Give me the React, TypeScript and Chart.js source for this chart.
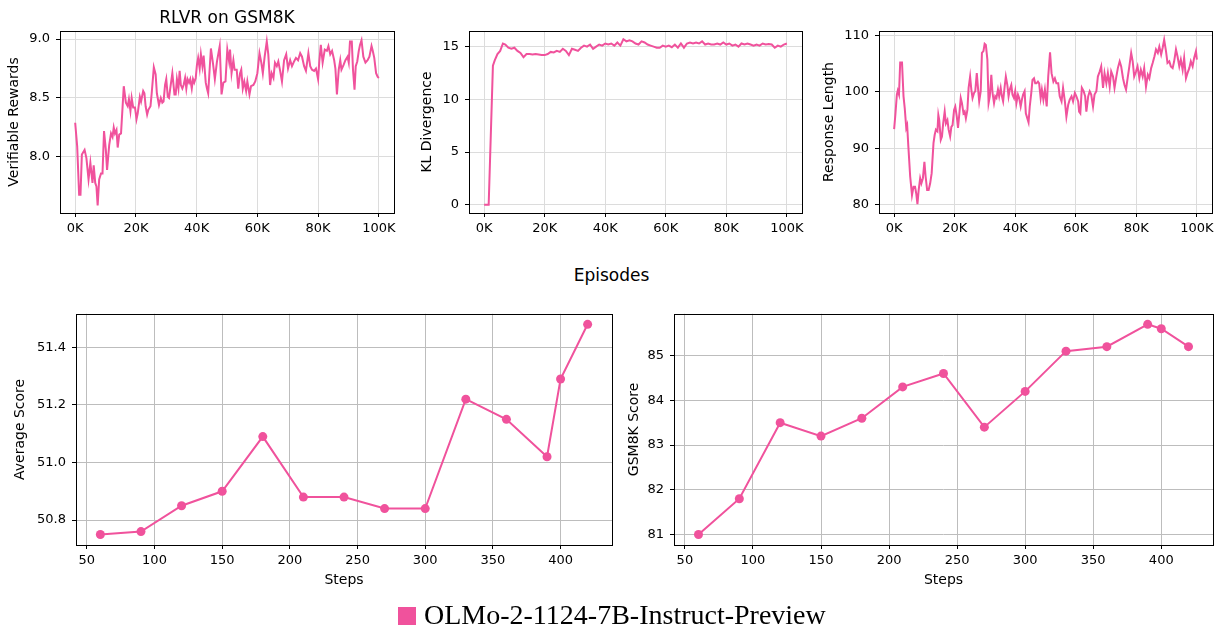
import React, { useEffect, useRef } from 'react';
import { Chart, registerables } from 'chart.js';
Chart.register(...registerables);

const PINK = '#F0529C';
const FONT = 'DejaVu Sans';

// ---- Top row: training curves (x in thousands of episodes) ----
const rewardEpisodesK = [
  0, 0.66, 1.3, 1.75, 2.2, 3.1, 3.7, 4.4, 5.0, 5.7,
  6.1, 6.6, 7.0, 7.4, 7.9, 8.5, 9.0, 9.5, 10.1, 10.5,
  11.2, 11.8, 12.3, 12.7, 13.1, 13.6, 14.0, 14.5, 15.1, 15.6,
  16.0, 16.7, 17.3, 17.7, 18.2, 18.6, 19.1, 19.7, 20.2, 20.6,
  21.3, 21.7, 22.4, 22.8, 23.2, 23.7, 24.1, 24.8, 25.2, 25.9,
  26.5, 26.9, 27.6, 28.2, 28.7, 29.1, 29.6, 30.0, 30.5, 30.9,
  31.3, 32.0, 32.7, 33.1, 33.5, 34.0, 34.4, 34.8, 35.3, 35.7,
  36.2, 36.6, 37.0, 37.5, 37.9, 38.4, 38.8, 39.2, 39.7, 40.1,
  40.5, 41.0, 41.4, 41.9, 42.3, 43.0, 43.4, 43.8, 44.7, 45.4,
  46.0, 46.7, 47.6, 48.2, 48.8, 49.5, 50.1, 50.7, 51.0, 51.5,
  52.1, 52.5, 53.2, 53.7, 54.3, 54.7, 55.2, 55.7, 56.3, 56.7,
  57.4, 57.9, 58.7, 59.3, 60.0, 60.7, 61.3, 61.8, 62.4, 63.1,
  63.6, 64.2, 64.7, 65.3, 65.8, 66.4, 66.9, 67.5, 68.1, 68.8,
  69.5, 70.1, 70.8, 71.4, 72.1, 72.7, 73.4, 74.1, 74.7, 75.4,
  76.0, 76.8, 77.4, 78.0, 78.7, 79.3, 80.0, 80.4, 80.9, 81.5,
  82.2, 82.9, 83.4, 84.0, 84.6, 85.3, 85.7, 86.2, 86.8, 87.3,
  87.7, 88.4, 89.0, 89.7, 90.1, 90.5, 91.1, 91.5, 92.0, 92.4,
  92.9, 93.4, 93.8, 94.3, 94.9, 95.6, 96.3, 96.9, 97.6, 98.0,
  98.5, 99.1, 99.6, 100,
];
const rewardValues = [
  8.29, 8.09, 7.68, 7.68, 8.02, 8.06, 7.99, 7.81, 7.95, 7.78,
  7.93, 7.78, 7.75, 7.59, 7.81, 7.86, 7.86, 8.22, 8.06, 7.89,
  8.10, 8.20, 8.17, 8.25, 8.20, 8.23, 8.08, 8.19, 8.20, 8.42,
  8.60, 8.46, 8.43, 8.49, 8.39, 8.50, 8.42, 8.42, 8.32, 8.37,
  8.51, 8.47, 8.56, 8.54, 8.43, 8.36, 8.40, 8.43, 8.54, 8.76,
  8.70, 8.54, 8.44, 8.50, 8.46, 8.47, 8.61, 8.66, 8.51, 8.50,
  8.58, 8.71, 8.53, 8.53, 8.66, 8.58, 8.73, 8.61, 8.58, 8.61,
  8.67, 8.58, 8.66, 8.63, 8.66, 8.58, 8.66, 8.63, 8.67, 8.78,
  8.84, 8.75, 8.87, 8.77, 8.86, 8.63, 8.58, 8.54, 8.92, 8.79,
  8.66, 8.81, 8.94, 8.53, 8.63, 8.64, 8.91, 8.81, 8.91, 8.71,
  8.82, 8.74, 8.74, 8.58, 8.71, 8.74, 8.58, 8.64, 8.56, 8.64,
  8.53, 8.60, 8.61, 8.64, 8.71, 8.88, 8.80, 8.71, 8.85, 8.98,
  8.87, 8.61, 8.71, 8.67, 8.80, 8.77, 8.81, 8.73, 8.64, 8.82,
  8.87, 8.75, 8.82, 8.77, 8.81, 8.84, 8.82, 8.88, 8.85, 8.77,
  8.73, 8.88, 8.77, 8.74, 8.73, 8.75, 8.66, 8.81, 8.95, 8.80,
  8.91, 8.90, 8.94, 8.87, 8.90, 8.82, 8.75, 8.53, 8.74, 8.82,
  8.74, 8.78, 8.82, 8.85, 8.80, 8.98, 8.98, 8.74, 8.57, 8.77,
  8.81, 8.90, 8.95, 8.99, 8.85, 8.80, 8.82, 8.85, 8.94, 8.90,
  8.84, 8.71, 8.68, 8.67,
];

const klEpisodesK = [
  0, 1.5, 2.9, 3.5, 4.4, 5.3, 6.2,
  7, 8, 9, 10, 11, 12, 13, 14, 15, 16,
  17, 18, 19, 20, 21, 22, 23, 24, 25, 26,
  27, 28, 29, 30, 31, 32, 33, 34, 35, 36,
  37, 38, 39, 40, 41, 42, 43, 44, 45, 46,
  47, 48, 49, 50, 51, 52, 53, 54, 55, 56,
  57, 58, 59, 60, 61, 62, 63, 64, 65, 66,
  67, 68, 69, 70, 71, 72, 73, 74, 75, 76,
  77, 78, 79, 80, 81, 82, 83, 84, 85, 86,
  87, 88, 89, 90, 91, 92, 93, 94, 95, 96,
  97, 98, 99, 100,
];
const klValues = [
  0, 0, 13.2, 13.7, 14.3, 14.6, 15.3,
  15.2, 14.9, 14.8, 14.9, 14.6, 14.4, 14.0, 14.3, 14.3, 14.25,
  14.3, 14.25, 14.2, 14.2, 14.3, 14.5, 14.45, 14.6, 14.5, 14.8,
  14.6, 14.2, 14.8, 14.7, 14.6, 14.9, 15.1, 15.0, 15.2, 14.8,
  15.0, 15.2, 15.1, 15.3, 15.2, 15.3, 15.1, 15.4, 15.1, 15.7,
  15.5, 15.6, 15.5, 15.3, 15.2, 15.5, 15.4, 15.2, 15.1, 15.0,
  14.9, 14.9, 15.1, 15.0, 15.1, 14.95, 15.2, 14.9, 15.3, 14.9,
  15.3, 15.4, 15.3, 15.4, 15.3, 15.5, 15.2, 15.3, 15.2, 15.2,
  15.3, 15.2, 15.4, 15.2, 15.3, 15.1, 15.2, 15.0, 15.3, 15.2,
  15.3, 15.2, 15.1, 15.2, 15.1, 15.3, 15.2, 15.25, 15.2, 14.9,
  15.1, 15.0, 15.2, 15.3,
];

const lengthEpisodesK = [
  0, 0.4, 0.9, 1.2, 1.6, 2.0, 2.6, 3.1, 3.5, 4.0,
  4.3, 4.7, 5.3, 5.9, 6.4, 6.9, 7.3, 7.7, 8.1, 8.6,
  9.0, 9.5, 10.0, 10.4, 10.9, 11.4, 11.9, 12.4, 13.0, 13.4,
  13.8, 14.3, 14.6, 14.9, 15.4, 15.8, 16.2, 16.7, 17.1, 17.6,
  18.0, 18.5, 18.9, 19.3, 19.8, 20.2, 20.7, 21.1, 21.5, 22.0,
  22.4, 22.9, 23.3, 23.7, 24.2, 24.6, 25.1, 25.5, 25.9, 26.4,
  26.8, 27.3, 27.7, 28.1, 28.6, 29.0, 29.5, 29.9, 30.3, 30.8,
  31.2, 31.6, 32.1, 32.5, 33.0, 33.4, 33.8, 34.3, 34.7, 35.2,
  35.6, 36.0, 36.5, 36.9, 37.4, 37.8, 38.2, 38.7, 39.1, 39.6,
  40.0, 40.4, 40.9, 41.3, 41.8, 42.2, 42.6, 43.1, 43.5, 44.0,
  44.4, 44.8, 45.3, 45.7, 46.2, 46.6, 47.0, 47.5, 47.9, 48.4,
  48.8, 49.3, 49.8, 50.4, 50.9, 51.5,
  52.0, 52.6, 53.1, 53.6, 54.2, 54.7, 55.3, 55.8, 56.4, 56.9,
  57.5, 58.0, 58.6, 59.1, 59.7, 60.2, 60.8, 61.1, 61.5, 62.0,
  62.6, 63.1, 63.5, 64.1, 64.6, 65.1, 65.7, 66.2, 66.8, 67.3,
  67.9, 68.4, 69.0, 69.5, 70.1, 70.6, 71.2, 71.7, 72.3, 72.8,
  73.4, 73.9, 74.5, 75.0, 75.6, 76.1, 76.6, 77.2, 77.7, 78.3,
  78.8, 79.3, 79.9, 80.4, 81.0, 81.5, 82.1, 82.6, 83.2, 83.8,
  84.3, 84.9, 85.4, 86.0, 86.5, 87.1, 87.6, 88.2, 88.7, 89.2,
  89.8, 90.3, 90.9, 91.4, 92.0, 92.5, 93.1, 93.6, 94.2, 94.7,
  95.3, 95.8, 96.4, 96.9, 97.5, 98.0, 98.6, 99.1, 99.7, 100,
];
const lengthValues = [
  93.4, 95.9, 99.5, 100.2, 99.5, 105.2, 105.2, 99.2, 97.1, 93.6,
  94.1, 90.3, 85.0, 81.7, 83.2, 83.2, 82.0, 80.1, 82.6, 84.7,
  83.8, 84.7, 87.6, 85.0, 82.6, 82.6, 83.8, 85.6, 90.9, 92.4,
  93.3, 93.0, 95.9, 95.0, 91.5, 92.1, 94.4, 96.5, 94.4, 95.0,
  93.3, 92.1, 93.8, 94.1, 96.8, 97.4, 95.6, 93.6, 95.9, 98.9,
  98.0, 96.2, 96.5, 95.3, 96.8, 100.7, 102.7, 100.4, 98.9, 99.8,
  100.1, 103.3, 100.7, 98.3, 100.1, 106.9, 107.2, 108.5, 108.3, 105.7,
  98.0, 99.2, 103.0, 99.8, 98.0, 99.2, 98.9, 100.4, 99.2, 100.7,
  99.2, 98.3, 100.9, 102.7, 101.2, 99.2, 100.4, 101.2, 99.5, 98.9,
  100.1, 98.0, 99.5, 98.9, 97.4, 98.6, 99.5, 100.1, 96.2, 95.3,
  94.6, 97.4, 99.8, 102.1, 102.4, 101.5, 101.5, 101.8, 101.5, 98.9,
  100.4, 98.6, 100.4, 97.4, 102.7, 107.0,
  103.3, 101.8, 102.4, 101.5, 101.5, 99.2, 98.3, 100.7, 98.3, 95.6,
  97.7, 98.6, 99.2, 98.3, 99.8, 99.2, 98.3, 96.5, 96.2, 100.7,
  100.1, 99.2, 96.5, 99.2, 100.1, 99.5, 97.4, 99.5, 100.1, 102.7,
  103.6, 104.5, 100.7, 103.3, 101.5, 103.3, 100.9, 103.6, 102.7, 100.7,
  102.7, 104.2, 105.4, 104.5, 102.4, 101.2, 100.4, 102.7, 104.5, 106.9,
  105.4, 102.7, 103.6, 104.5, 102.4, 103.9, 102.7, 104.2, 100.9, 103.0,
  102.4, 104.2, 105.1, 106.3, 107.5, 106.9, 108.0, 106.6, 107.8, 109.2,
  107.2, 105.1, 105.4, 104.5, 104.2, 105.4, 107.5, 106.3, 104.5, 105.7,
  103.9, 106.0, 102.4, 103.3, 104.2, 105.4, 104.5, 106.0, 107.2, 105.7,
];

// ---- Bottom row: evaluation scores ----
const evalSteps = [60, 90, 120, 150, 180, 210, 240, 270, 300, 330, 360, 390, 400, 420];
const averageScores = [50.75, 50.76, 50.85, 50.90, 51.09, 50.88, 50.88, 50.84, 50.84, 51.22, 51.15, 51.02, 51.29, 51.48];
const gsm8kScores = [81.0, 81.8, 83.5, 83.2, 83.6, 84.3, 84.6, 83.4, 84.2, 85.1, 85.2, 85.7, 85.6, 85.2];

// ---- Tick values ----
const episodeTicksK = [0, 20, 40, 60, 80, 100];
const rewardTicks = [8.0, 8.5, 9.0];
const klTicks = [0, 5, 10, 15];
const lengthTicks = [80, 90, 100, 110];
const stepTicks = [50, 100, 150, 200, 250, 300, 350, 400];
const averageTicks = [50.8, 51.0, 51.2, 51.4];
const gsm8kTicks = [81, 82, 83, 84, 85];

const MODEL_NAME = 'OLMo-2-1124-7B-Instruct-Preview';

const framePlugin = {
  id: 'frame',
  afterDraw(chart: any) {
    const { ctx, chartArea: a } = chart;
    ctx.save();
    ctx.strokeStyle = '#000';
    ctx.lineWidth = 1;
    ctx.strokeRect(Math.round(a.left) + 0.5, Math.round(a.top) + 0.5, Math.round(a.right - a.left), Math.round(a.bottom - a.top));
    ctx.restore();
  },
};

type Spec = {
  left: number; top: number; w: number; h: number;
  yAxisW: number; xAxisH: number; padTop: number; padRight: number;
  xs: number[]; ys: number[];
  xMin: number; xMax: number; yMin: number; yMax: number;
  xTicks: number[]; yTicks: number[];
  xFmt: (v: number) => string; yFmt: (v: number) => string;
  yTitle: string; yTitlePad: number;
  xTitle?: string; xTitlePad?: number;
  gridColor: string; lineWidth: number; pointRadius: number;
  tickSize: number;
};

function PlotCanvas({ s }: { s: Spec }) {
  const ref = useRef<HTMLCanvasElement | null>(null);
  useEffect(() => {
    if (!ref.current) return;
    const tickFont = { family: FONT, size: s.tickSize };
    const titleFont = { family: FONT, size: 14 };
    const chart = new Chart(ref.current, {
      type: 'line',
      data: {
        datasets: [{
          data: s.xs.map((x, i) => ({ x, y: s.ys[i] })),
          borderColor: PINK,
          backgroundColor: PINK,
          borderWidth: s.lineWidth,
          pointRadius: s.pointRadius,
          pointHoverRadius: s.pointRadius,
          pointBorderWidth: 0,
          pointBackgroundColor: PINK,
          tension: 0,
          fill: false,
        }],
      },
      options: {
        responsive: false,
        animation: false,
        events: [],
        layout: { padding: { left: 0, top: s.padTop, right: s.padRight, bottom: 0 } },
        plugins: { legend: { display: false }, tooltip: { enabled: false } },
        scales: {
          x: {
            type: 'linear',
            min: s.xMin, max: s.xMax,
            afterBuildTicks: (sc: any) => { sc.ticks = s.xTicks.map((v) => ({ value: v })); },
            afterFit: (sc: any) => { sc.height = s.xAxisH; },
            ticks: { autoSkip: false, maxRotation: 0, padding: 4, color: '#000', font: tickFont, callback: (v: any) => s.xFmt(Number(v)) },
            grid: { color: s.gridColor, lineWidth: 1, drawTicks: true, tickLength: 4, tickColor: '#000', tickWidth: 1 },
            border: { display: false },
            title: s.xTitle ? { display: true, text: s.xTitle, color: '#000', font: titleFont, padding: { top: s.xTitlePad, bottom: s.xTitlePad } } : { display: false },
          },
          y: {
            type: 'linear',
            min: s.yMin, max: s.yMax,
            afterBuildTicks: (sc: any) => { sc.ticks = s.yTicks.map((v) => ({ value: v })); },
            afterFit: (sc: any) => { sc.width = s.yAxisW; },
            ticks: { autoSkip: false, padding: 6, color: '#000', font: tickFont, callback: (v: any) => s.yFmt(Number(v)) },
            grid: { color: s.gridColor, lineWidth: 1, drawTicks: true, tickLength: 4, tickColor: '#000', tickWidth: 1 },
            border: { display: false },
            title: { display: true, text: s.yTitle, color: '#000', font: titleFont, padding: { top: s.yTitlePad, bottom: s.yTitlePad } },
          },
        },
      },
      plugins: [framePlugin],
    } as any);
    return () => chart.destroy();
  }, []);
  return (
    <canvas
      ref={ref}
      width={s.w}
      height={s.h}
      style={{ position: 'absolute', left: s.left, top: s.top, width: s.w, height: s.h }}
    />
  );
}

const kFmt = (v: number) => `${v}K`;
const intFmt = (v: number) => String(v);
const oneDec = (v: number) => v.toFixed(1);

const TOP_GRID = '#dcdcdc';
const BOTTOM_GRID = '#bdbdbd';

const specs: Spec[] = [
  {
    left: 0, top: 0, w: 405, h: 250, yAxisW: 60, xAxisH: 37, padTop: 31, padRight: 11,
    xs: rewardEpisodesK, ys: rewardValues, xMin: -5, xMax: 105, yMin: 7.525, yMax: 9.068,
    xTicks: episodeTicksK, yTicks: rewardTicks, xFmt: kFmt, yFmt: oneDec,
    yTitle: 'Verifiable Rewards', yTitlePad: 5.6, gridColor: TOP_GRID, lineWidth: 2, pointRadius: 0, tickSize: 13,
  },
  {
    left: 405, top: 0, w: 410, h: 250, yAxisW: 64, xAxisH: 37, padTop: 31, padRight: 13,
    xs: klEpisodesK, ys: klValues, xMin: -5, xMax: 105, yMin: -0.785, yMax: 16.485,
    xTicks: episodeTicksK, yTicks: klTicks, xFmt: kFmt, yFmt: intFmt,
    yTitle: 'KL Divergence', yTitlePad: 14.1, gridColor: TOP_GRID, lineWidth: 2, pointRadius: 0, tickSize: 13,
  },
  {
    left: 815, top: 0, w: 410, h: 250, yAxisW: 64, xAxisH: 37, padTop: 31, padRight: 13,
    xs: lengthEpisodesK, ys: lengthValues, xMin: -5, xMax: 105, yMin: 78.54, yMax: 110.77,
    xTicks: episodeTicksK, yTicks: lengthTicks, xFmt: kFmt, yFmt: intFmt,
    yTitle: 'Response Length', yTitlePad: 5.6, gridColor: TOP_GRID, lineWidth: 2, pointRadius: 0, tickSize: 13,
  },
  {
    left: 0, top: 300, w: 620, h: 300, yAxisW: 76, xAxisH: 55, padTop: 13, padRight: 8,
    xs: evalSteps, ys: averageScores, xMin: 42, xMax: 438, yMin: 50.7135, yMax: 51.5165,
    xTicks: stepTicks, yTicks: averageTicks, xFmt: intFmt, yFmt: oneDec,
    yTitle: 'Average Score', yTitlePad: 11.6, xTitle: 'Steps', xTitlePad: 11.6,
    gridColor: BOTTOM_GRID, lineWidth: 2, pointRadius: 4.5, tickSize: 13,
  },
  {
    left: 620, top: 300, w: 605, h: 300, yAxisW: 54, xAxisH: 55, padTop: 13, padRight: 12,
    xs: evalSteps, ys: gsm8kScores, xMin: 42, xMax: 438, yMin: 80.765, yMax: 85.935,
    xTicks: stepTicks, yTicks: gsm8kTicks, xFmt: intFmt, yFmt: intFmt,
    yTitle: 'GSM8K Score', yTitlePad: 5.6, xTitle: 'Steps', xTitlePad: 11.6,
    gridColor: BOTTOM_GRID, lineWidth: 2, pointRadius: 4.5, tickSize: 13,
  },
];

export default function App() {
  return (
    <div style={{ position: 'fixed', left: 0, top: 0, width: 1225, height: 630, background: '#fff', overflow: 'hidden' }}>
      {specs.map((s, i) => <PlotCanvas key={i} s={s} />)}
      <div style={{ position: 'absolute', left: 127, top: 8.9, width: 200, textAlign: 'center', fontFamily: FONT, fontSize: 17, lineHeight: '17px', color: '#000', whiteSpace: 'nowrap' }}>
        RLVR on GSM8K
      </div>
      <div style={{ position: 'absolute', left: 511.5, top: 266.6, width: 200, textAlign: 'center', fontFamily: FONT, fontSize: 17, lineHeight: '17px', color: '#000', whiteSpace: 'nowrap' }}>
        Episodes
      </div>
      <div style={{ position: 'absolute', left: 398, top: 607, width: 18, height: 18, background: PINK }} />
      <div style={{ position: 'absolute', left: 424, top: 600.5, fontFamily: '"Liberation Serif", serif', fontSize: 28, lineHeight: '28px', color: '#000', whiteSpace: 'nowrap' }}>
        {MODEL_NAME}
      </div>
    </div>
  );
}
